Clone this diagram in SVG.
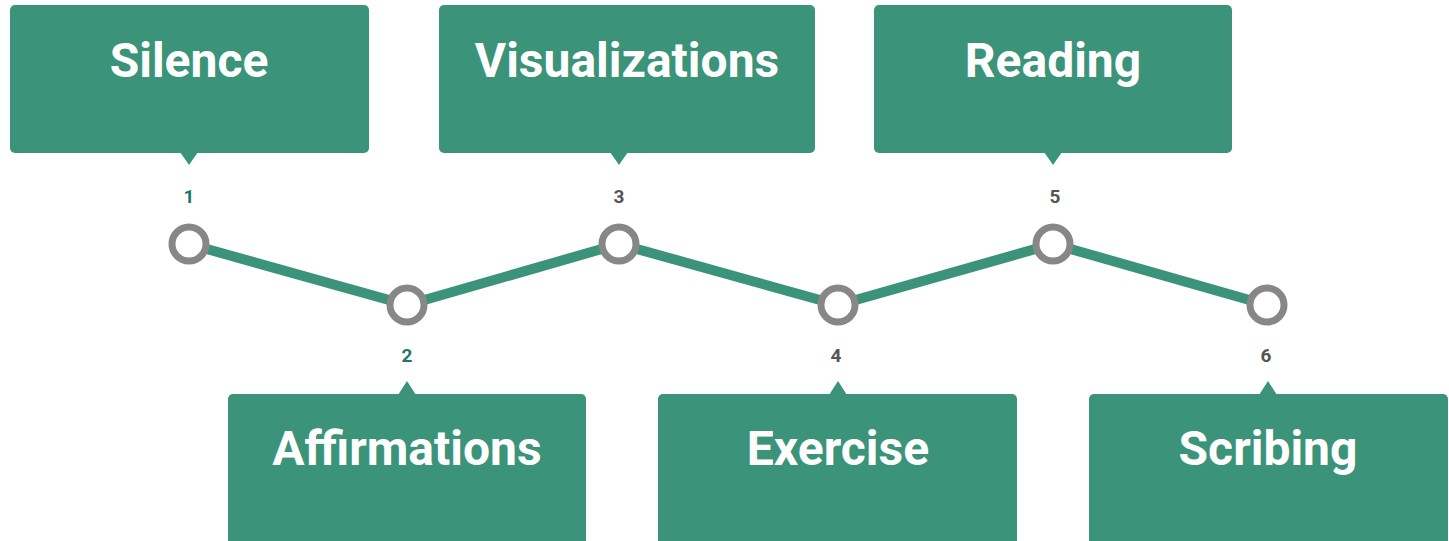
<svg xmlns="http://www.w3.org/2000/svg" width="1449" height="541" viewBox="0 0 1449 541">
<style>
.box{fill:#3b9379}
.title{font-family:Roboto,"Liberation Sans",sans-serif;font-weight:700;font-size:48px;fill:#fff;text-anchor:middle}
.num{font-family:Roboto,"Liberation Sans",sans-serif;font-weight:700;font-size:19px;fill:#555;text-anchor:middle}
.num.t{fill:#1f7766}
.dot{fill:#fff;stroke:#878787;stroke-width:7}
</style>
<rect width="1449" height="541" fill="#fff"/>
<g id="connectors">
<polyline points="189,244 407,305 619,244 838,305 1053,244 1267,305" fill="none" stroke="#3b9379" stroke-width="10" stroke-linejoin="round"/>
</g>
<g id="node1">
<rect class="box" x="10" y="5" width="359" height="148" rx="5"/>
<polygon class="box" points="180,152 198,152 189,165"/>
<text class="title" x="189" y="77">Silence</text>
<text class="num t" x="189" y="203">1</text>
<circle class="dot" cx="189" cy="244" r="17"/>
</g>
<g id="node2">
<rect class="box" x="228" y="394" width="358" height="152" rx="5"/>
<polygon class="box" points="398,395 416,395 407,381"/>
<text class="title" x="407" y="465">Affirmations</text>
<text class="num t" x="407" y="362">2</text>
<circle class="dot" cx="407" cy="305" r="17"/>
</g>
<g id="node3">
<rect class="box" x="439" y="5" width="376" height="148" rx="5"/>
<polygon class="box" points="610,152 628,152 619,165"/>
<text class="title" x="627" y="77">Visualizations</text>
<text class="num" x="619" y="203">3</text>
<circle class="dot" cx="619" cy="244" r="17"/>
</g>
<g id="node4">
<rect class="box" x="658" y="394" width="359" height="152" rx="5"/>
<polygon class="box" points="829,395 847,395 838,381"/>
<text class="title" x="838" y="465">Exercise</text>
<text class="num" x="836" y="362">4</text>
<circle class="dot" cx="838" cy="305" r="17"/>
</g>
<g id="node5">
<rect class="box" x="874" y="5" width="358" height="148" rx="5"/>
<polygon class="box" points="1044,152 1062,152 1053,165"/>
<text class="title" x="1053" y="77">Reading</text>
<text class="num" x="1055" y="203">5</text>
<circle class="dot" cx="1053" cy="244" r="17"/>
</g>
<g id="node6">
<rect class="box" x="1089" y="394" width="359" height="152" rx="5"/>
<polygon class="box" points="1259,395 1277,395 1268,381"/>
<text class="title" x="1268" y="465">Scribing</text>
<text class="num" x="1266" y="362">6</text>
<circle class="dot" cx="1267" cy="305" r="17"/>
</g>
</svg>
